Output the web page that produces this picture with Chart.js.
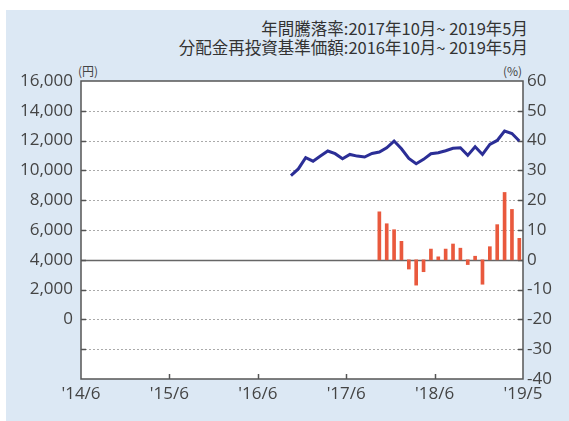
<!DOCTYPE html>
<html><head><meta charset="utf-8">
<script src="https://cdn.jsdelivr.net/npm/chart.js@4"></script>
<style>
html,body{margin:0;padding:0;background:#fff;}
#wrap{position:relative;width:569px;height:421px;overflow:hidden;}
#panel{position:absolute;left:6px;top:10px;right:0;bottom:0;background:#dce8f4;}
canvas{position:absolute;left:0;top:0;}
.t{position:absolute;right:41px;font-family:"Noto Sans CJK JP";font-size:16.5px;color:#333;white-space:nowrap;line-height:1;}
.u{position:absolute;font-family:"Noto Sans CJK JP";font-size:12px;color:#444;line-height:1;}
</style></head><body>
<div id="wrap"><div id="panel"></div>
<div class="t" style="top:20px">年間騰落率:2017年10月~ 2019年5月</div>
<div class="t" style="top:39px">分配金再投資基準価額:2016年10月~ 2019年5月</div>
<div class="u" style="left:78px;top:65px">(円)</div>
<div class="u" style="left:503px;top:65px">(%)</div>
<canvas id="c" width="569" height="421"></canvas>
</div>
<script>
// ---- data ----
const lineMonths = ["2016/10","2016/11","2016/12","2017/1","2017/2","2017/3","2017/4","2017/5","2017/6","2017/7","2017/8","2017/9","2017/10","2017/11","2017/12","2018/1","2018/2","2018/3","2018/4","2018/5","2018/6","2018/7","2018/8","2018/9","2018/10","2018/11","2018/12","2019/1","2019/2","2019/3","2019/4","2019/5"];
const navValues = [9650,10100,10850,10620,10960,11300,11120,10780,11070,10960,10900,11140,11230,11520,11970,11450,10800,10450,10740,11120,11190,11320,11480,11520,11010,11590,11070,11750,12010,12640,12480,11970];
const barMonths = ["2017/10","2017/11","2017/12","2018/1","2018/2","2018/3","2018/4","2018/5","2018/6","2018/7","2018/8","2018/9","2018/10","2018/11","2018/12","2019/1","2019/2","2019/3","2019/4","2019/5"];
const annualReturns = [16.1,12.1,10.1,6.2,-3.1,-8.5,-4.0,3.6,1.0,3.6,5.3,3.9,-1.6,1.2,-8.2,4.4,11.8,22.6,16.9,7.2];
const xTickLabels = ["'14/6","'15/6","'16/6","'17/6","'18/6","'19/5"];
const xTickValues = [0,12,24,36,48,60];

function toX(m){ const [y,mo] = m.split('/').map(Number); return (y-2014)*12 + (mo-6) + 0.5; }

const tickFont = {family:"'Open Sans'", size:17};
const tickColor = '#444';

const framePlugin = {
  id:'frame',
  beforeDatasetsDraw(chart){
    const {ctx, chartArea:a, scales} = chart;
    ctx.save();
    ctx.fillStyle = '#fff';
    ctx.fillRect(a.left, a.top, a.right-a.left, a.bottom-a.top);
    const yl = scales.yL;
    yl.ticks.forEach(t => {
      if (t.value <= yl.min || t.value >= yl.max) return;
      const y = Math.round(yl.getPixelForValue(t.value)) + 0.5;
      ctx.beginPath();
      if (t.value === 4000) { ctx.setLineDash([]); ctx.strokeStyle = '#666'; ctx.lineWidth = 1.5; }
      else { ctx.setLineDash([2,2]); ctx.strokeStyle = '#aaa'; ctx.lineWidth = 1; }
      ctx.moveTo(a.left, y); ctx.lineTo(a.right, y); ctx.stroke();
      ctx.setLineDash([]); ctx.strokeStyle = '#555'; ctx.lineWidth = 1.5;
      ctx.beginPath(); ctx.moveTo(a.left, y); ctx.lineTo(a.left+5, y);
      ctx.moveTo(a.right-5, y); ctx.lineTo(a.right, y); ctx.stroke();
    });
    const xs = scales.x;
    ctx.strokeStyle = '#555'; ctx.lineWidth = 1.5;
    xTickValues.forEach(v => {
      if (v <= xs.min || v >= xs.max) return;
      const x = Math.round(xs.getPixelForValue(v)) + 0.5;
      ctx.beginPath(); ctx.moveTo(x, a.bottom); ctx.lineTo(x, a.bottom-5); ctx.stroke();
    });
    ctx.restore();
  },
  afterDatasetsDraw(chart){
    const {ctx, chartArea:a} = chart;
    ctx.save();
    ctx.strokeStyle = '#555'; ctx.lineWidth = 1.5;
    ctx.strokeRect(a.left, a.top, a.right-a.left, a.bottom-a.top);
    ctx.restore();
  }
};

new Chart(document.getElementById('c'), {
  data: {
    datasets: [
      { type:'line', label:'分配金再投資基準価額', yAxisID:'yL', order:0,
        data: lineMonths.map((m,i)=>({x:toX(m), y:navValues[i]})),
        borderColor:'#2b2e96', borderWidth:3, pointRadius:0, tension:0, fill:false },
      { type:'bar', label:'年間騰落率', yAxisID:'yR', order:1,
        data: barMonths.map((m,i)=>({x:toX(m), y:annualReturns[i]})),
        backgroundColor:'#e9593d', barThickness:3 }
    ]
  },
  options: {
    responsive:false, animation:false,
    layout:{padding:{top:81,left:0,right:0,bottom:0}},
    plugins:{legend:{display:false}, tooltip:{enabled:false}},
    scales:{
      x:{ type:'linear', min:0, max:60, offset:false,
        afterBuildTicks: s => { s.ticks = xTickValues.map(v=>({value:v})); },
        ticks:{ callback:(v,i)=>xTickLabels[i], font:tickFont, color:tickColor, padding:5, maxRotation:0, autoSkip:false },
        grid:{display:false, drawTicks:false, offset:false}, border:{display:false},
        afterFit: s => { s.height = 42; } },
      yL:{ type:'linear', position:'left', min:-4000, max:16000,
        ticks:{ stepSize:2000, callback:v => v >= 0 ? v.toLocaleString('en-US') : '', font:tickFont, color:tickColor, padding:8 },
        grid:{display:false, drawTicks:false}, border:{display:false},
        afterFit: s => { s.width = 81; } },
      yR:{ type:'linear', position:'right', min:-40, max:60,
        ticks:{ stepSize:10, font:tickFont, color:tickColor, padding:4 },
        grid:{display:false, drawTicks:false}, border:{display:false},
        afterFit: s => { s.width = 46; } }
    }
  },
  plugins:[framePlugin]
});
</script>
</body></html>
